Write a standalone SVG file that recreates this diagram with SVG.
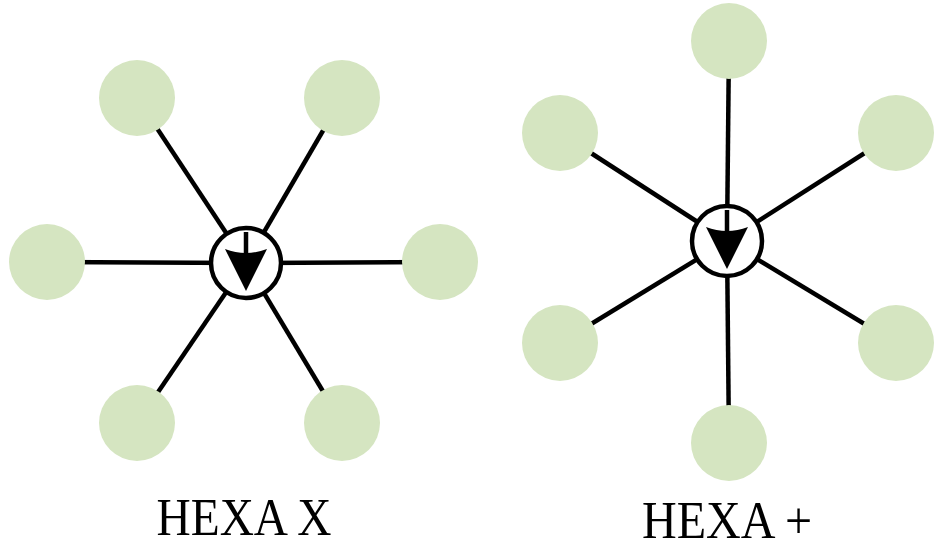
<svg xmlns="http://www.w3.org/2000/svg" width="937" height="548" viewBox="0 0 937 548">
<style>.n{fill:#d5e5c1}.l{stroke:#000;stroke-width:4.5}.c{fill:#fff;stroke:#000;stroke-width:4.5}.t{font-family:"Liberation Serif",serif;font-size:52px;text-anchor:middle}</style>
<defs><g id="arr"><line x1="0" y1="-31" x2="0" y2="-10" stroke="#000" stroke-width="4.5"/><path d="M-21,-14 Q0,-6 21,-14 L0,28 Z"/></g></defs>
<g id="connectors" class="l">
<line x1="246" y1="263" x2="137" y2="98"/><line x1="246" y1="263" x2="342" y2="98"/>
<line x1="246" y1="263" x2="47" y2="262"/><line x1="246" y1="263" x2="440" y2="262"/>
<line x1="246" y1="263" x2="137" y2="423"/><line x1="246" y1="263" x2="342" y2="423"/>
<line x1="727" y1="241" x2="729" y2="41"/><line x1="727" y1="241" x2="560" y2="133"/>
<line x1="727" y1="241" x2="896" y2="133"/><line x1="727" y1="241" x2="560" y2="343"/>
<line x1="727" y1="241" x2="896" y2="343"/><line x1="727" y1="241" x2="729" y2="443"/>
</g>
<g id="x1"><circle class="n" cx="137" cy="98" r="38"/></g>
<g id="x2"><circle class="n" cx="342" cy="98" r="38"/></g>
<g id="x3"><circle class="n" cx="47" cy="262" r="38"/></g>
<g id="x4"><circle class="n" cx="440" cy="262" r="38"/></g>
<g id="x5"><circle class="n" cx="137" cy="423" r="38"/></g>
<g id="x6"><circle class="n" cx="342" cy="423" r="38"/></g>
<g id="xc"><circle class="c" cx="246" cy="263" r="35"/><use href="#arr" x="246" y="263"/></g>
<g id="p1"><circle class="n" cx="729" cy="41" r="38"/></g>
<g id="p2"><circle class="n" cx="560" cy="133" r="38"/></g>
<g id="p3"><circle class="n" cx="896" cy="133" r="38"/></g>
<g id="p4"><circle class="n" cx="560" cy="343" r="38"/></g>
<g id="p5"><circle class="n" cx="896" cy="343" r="38"/></g>
<g id="p6"><circle class="n" cx="729" cy="443" r="38"/></g>
<g id="pc"><circle class="c" cx="727" cy="241" r="35"/><use href="#arr" x="727" y="241"/></g>
<text class="t" x="244" y="535" textLength="175" lengthAdjust="spacingAndGlyphs">HEXA X</text>
<text class="t" x="727" y="538" textLength="170" lengthAdjust="spacingAndGlyphs">HEXA +</text>
</svg>
